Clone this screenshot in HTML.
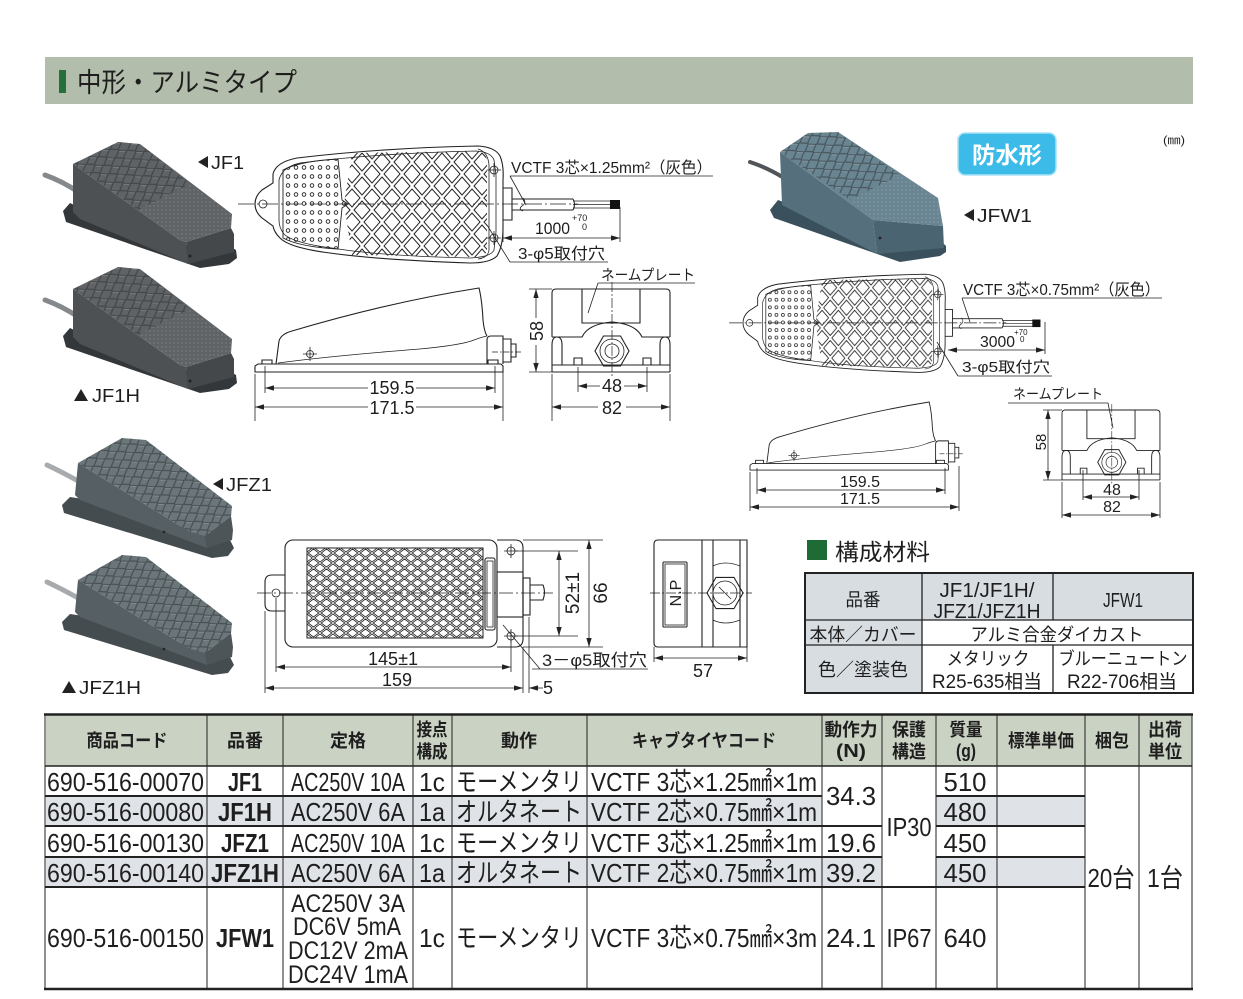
<!DOCTYPE html>
<html><head><meta charset="utf-8"><title>中形・アルミタイプ</title>
<style>
html,body{margin:0;padding:0;background:#fff;width:1243px;height:999px;overflow:hidden}
svg{display:block}
text{font-family:"Liberation Sans","Noto Sans CJK JP",sans-serif;fill:#1e1e1e}
.b{font-weight:bold}
.ln{fill:none;stroke:#222;stroke-width:1.1}
.th{fill:none;stroke:#222;stroke-width:0.8}
.dm{fill:none;stroke:#222;stroke-width:0.8}
</style></head><body>
<svg width="1243" height="999" viewBox="0 0 1243 999" xmlns="http://www.w3.org/2000/svg">
<defs>
<marker id="ar" viewBox="0 0 10 6" refX="10" refY="3" markerWidth="9" markerHeight="5.4" markerUnits="userSpaceOnUse" orient="auto"><path d="M0,0 L10,3 L0,6Z" fill="#222"/></marker>
<pattern id="latA" x="352" y="150" width="20" height="24" patternUnits="userSpaceOnUse"><path d="M10,3 L18,12 L10,21 L2,12Z M0,-9 L8,0 L0,9 L-8,0Z M20,-9 L28,0 L20,9 L12,0Z M0,15 L8,24 L0,33 L-8,24Z M20,15 L28,24 L20,33 L12,24Z" fill="none" stroke="#222" stroke-width="1"/></pattern>
<pattern id="latB" x="307" y="548" width="13" height="10" patternUnits="userSpaceOnUse"><path d="M6.5,1 L11.8,5 L6.5,9 L1.2,5Z M0,-4 L5.3,0 L0,4 L-5.3,0Z M13,-4 L18.3,0 L13,4 L7.7,0Z M0,6 L5.3,10 L0,14 L-5.3,10Z M13,6 L18.3,10 L13,14 L7.7,10Z" fill="none" stroke="#222" stroke-width="0.8"/></pattern>
<pattern id="dotA" x="284" y="163" width="8" height="9" patternUnits="userSpaceOnUse"><circle cx="4" cy="4.5" r="1.8" fill="none" stroke="#222" stroke-width="0.9"/></pattern>
<pattern id="tex" width="14" height="10" patternUnits="userSpaceOnUse" patternTransform="rotate(-32)"><path d="M7,0.5 L13.5,5 L7,9.5 L0.5,5Z" fill="none" stroke="#2a2d30" stroke-opacity="0.55" stroke-width="1.2"/><path d="M7,1.5 L12.2,5" fill="none" stroke="#fff" stroke-opacity="0.22" stroke-width="1"/></pattern>
<pattern id="tex2" width="4" height="4" patternUnits="userSpaceOnUse"><circle cx="2" cy="2" r="0.8" fill="#fff" fill-opacity="0.18"/></pattern>

<g id="planA">
 <path class="ln" d="M273,183 L273,174 Q276,162 297,158 Q380,148 478,146 Q495,147 500,156 Q504,165 503,180 L503,228 Q503,246 497,256 Q490,263 470,263 Q380,260 330,253 Q290,248 280,238 Q274,232 273,226 L262,218 Q255,212 255,204 Q255,196 262,190 Z"/>
 <path class="th" d="M279,180 Q282,167 300,163 Q380,153 476,151 Q491,152 494,160 L496,175 L496,232 L494,250 Q491,257 470,258 Q380,256 332,248 Q293,243 284,234 Q279,228 279,220 Z"/>
 <path class="th" d="M478,149 Q488,152 489,165 L489,250 Q488,258 478,259"/>
 <path d="M283,170 Q300,161 338,159 L342,200 L348,204 L342,208 L338,249 Q300,247 283,238 Z" fill="url(#dotA)" stroke="#222" stroke-width="0.9"/>
 <path d="M352,153 L476,151 Q487,152 487,162 L487,250 Q486,257 474,257 L352,255 L344,204 Z" fill="url(#latA)" stroke="none"/>
 <circle class="th" cx="263" cy="204" r="4"/>
 <circle class="th" cx="494" cy="170" r="4"/><path class="th" d="M487,170 H501 M494,163 V177"/>
 <circle class="th" cx="494" cy="238" r="4"/><path class="th" d="M487,238 H501 M494,231 V245"/>
 <path d="M238,204 H578" fill="none" stroke="#222" stroke-width="0.8" stroke-dasharray="16 3 2 3"/>
 <path class="ln" d="M503,188 H512 V220 H503"/>
 <path class="ln" d="M512,199 H573 M512,210 H573 M573,199 Q576,204.5 573,210"/>
 <path class="th" d="M523,198 Q527,203 522,206 Q518,209 523,211"/>
 <path class="th" d="M573,201 H612 M573,204.5 H612 M573,208 H612"/>
 <rect x="610" y="200" width="10" height="9" fill="#111"/>
</g>
<g id="sideA">
 <path class="ln" d="M255,372 V366 L258,364 H501 L503,366 V372 Z"/>
 <path class="ln" d="M262,364 V360 H272 V364 M488,364 V360 H498 V364"/>
 <path class="ln" d="M276,364 L279,341 Q281,334 292,331 Q390,302 479,288 Q482,300 483,320 Q484,331 487,336"/>
 <path class="th" d="M278,363 Q330,356 420,349 Q462,345 474,340 Q482,337 487,336"/>
 <path class="ln" d="M487,364 V340 Q487,336 491,336 H503 V364"/>
 <path class="ln" d="M503,339 H511 V362 H503 M511,344 H516 V357 H511"/>
 <circle class="th" cx="310" cy="354" r="3.5"/><path class="th" d="M303,354 H317 M310,347 V361"/>
 <path d="M492,352 H522" fill="none" stroke="#222" stroke-width="0.7" stroke-dasharray="6 2 1.5 2"/>
</g>
<g id="frontA">
 <path class="ln" d="M552,337 V293 Q552,289 556,289 H666 Q670,289 670,293 V337"/>
 <path class="ln" d="M582,289 V323 H640 V289"/>
 <path class="ln" d="M552,337 H582 Q588,324 612,322 Q636,324 642,337 H670"/>
 <path class="ln" d="M552,372 V345 Q552,337 557,337 Q562,337 562,345 V365"/>
 <path class="ln" d="M670,372 V345 Q670,337 665,337 Q660,337 660,345 V365"/>
 <path class="ln" d="M552,365 H670 M552,372 H670"/>
 <polygon class="ln" points="629,351 620.5,366 603.5,366 595,351 603.5,336 620.5,336"/>
 <circle class="th" cx="612" cy="351" r="12"/>
 <circle class="th" cx="612" cy="351" r="7"/>
 <path class="ln" d="M574,365 V358 H582 V365 M643,365 V358 H651 V365"/>
 <path d="M612,282 V376" fill="none" stroke="#222" stroke-width="0.7" stroke-dasharray="10 2 2 2"/>
</g>
</defs>

<!-- Title bar -->
<rect x="45" y="57" width="1148" height="47" fill="#b3bdab"/>
<rect x="59" y="70" width="7" height="23" fill="#25703a"/>
<text x="77" y="92" font-size="27" textLength="220" lengthAdjust="spacingAndGlyphs">中形・アルミタイプ</text>

<!-- Photos JF1 / JF1H -->
<g id="pA">
 <path d="M45,175 Q62,181 80,193" stroke="#85898c" stroke-width="5" fill="none" stroke-linecap="round"/>
 <polygon points="63,211 70,203 78,207 200,250 228,245 236,250 237,258 229,264 200,268 66,222" fill="#34373a"/>
 <polygon points="73,164 180,240 186,242 188,264 80,219 73,212" fill="#4d5154"/>
 <polygon points="186,242 231,228 234,234 234,252 188,264" fill="#44484b"/>
 <polygon points="73,164 118,142 140,144 232,214 231,228 186,242 180,240" fill="#5f6366"/>
 <polygon points="73,164 118,142 140,144 190,184 138,210" fill="url(#tex)"/>
 <polygon points="138,210 190,184 232,214 231,228 186,242 180,240" fill="url(#tex2)"/>
 <circle cx="190" cy="256" r="1.5" fill="#222"/>
</g>
<use href="#pA" transform="translate(0,125)"/>
<polygon points="198,162 208,156 208,168" fill="#222"/>
<text x="211" y="169" font-size="18" textLength="33" lengthAdjust="spacingAndGlyphs">JF1</text>
<polygon points="74,401 81,389 88,401" fill="#222"/>
<text x="92" y="402" font-size="18" textLength="48" lengthAdjust="spacingAndGlyphs">JF1H</text>

<!-- Photos JFZ1 / JFZ1H -->
<g id="pZ">
 <path d="M47,465 Q62,472 78,481" stroke="#a7abae" stroke-width="5" fill="none" stroke-linecap="round"/>
 <polygon points="62,505 70,497 90,500 230,540 234,548 228,556 212,558 64,513" fill="#454c50"/>
 <polygon points="78,463 190,532 205,536 207,548 80,500 75,495" fill="#566064"/>
 <polygon points="205,536 231,516 233,530 232,540 207,548" fill="#4d5559"/>
 <polygon points="78,463 122,438 146,440 232,506 231,516 205,536 190,532" fill="#6b767b"/>
 <polygon points="78,463 122,438 146,440 232,506 231,516 205,536 190,532" fill="url(#tex)"/>
 <circle cx="164" cy="532" r="1.3" fill="#222"/>
</g>
<use href="#pZ" transform="translate(0,117)"/>
<polygon points="213,484 223,478 223,490" fill="#222"/>
<text x="226" y="491" font-size="18" textLength="46" lengthAdjust="spacingAndGlyphs">JFZ1</text>
<polygon points="62,693 69,681 76,693" fill="#222"/>
<text x="79" y="694" font-size="18" textLength="62" lengthAdjust="spacingAndGlyphs">JFZ1H</text>

<!-- Photo JFW1 -->
<path d="M750,162 Q768,168 784,178" stroke="#4f5558" stroke-width="4" fill="none" stroke-linecap="round"/>
<polygon points="770,210 778,200 786,203 877,252 940,240 946,246 946,252 940,256 900,262 774,218" fill="#3a505c"/>
<polygon points="780,152 873,220 877,254 782,205" fill="#55707c"/>
<polygon points="873,220 943,226 944,248 877,254" fill="#4b6471"/>
<polygon points="780,152 808,133 838,132 938,198 943,226 873,220" fill="#6a8592"/>
<polygon points="780,152 808,133 838,132 900,175 850,200" fill="url(#tex)"/>
<polygon points="850,200 900,175 938,198 943,226 873,220" fill="url(#tex2)"/>
<circle cx="880" cy="238" r="1.4" fill="#222"/>
<polygon points="964,215 974,209 974,221" fill="#222"/>
<text x="977" y="222" font-size="18" textLength="55" lengthAdjust="spacingAndGlyphs">JFW1</text>

<!-- badge -->
<rect x="958" y="133" width="98" height="42" rx="7" fill="#3dbbe8" stroke="#a9e2f5" stroke-width="1.5"/>
<text x="1007" y="163" font-size="23" class="b" text-anchor="middle" style="fill:#fff" textLength="70" lengthAdjust="spacingAndGlyphs">防水形</text>
<text x="1163" y="144" font-size="12" textLength="22" lengthAdjust="spacingAndGlyphs">(㎜)</text>

<!-- JF1 drawings -->
<use href="#planA"/>
<text x="511" y="173" font-size="16" textLength="201" lengthAdjust="spacingAndGlyphs">VCTF 3芯×1.25mm²（灰色）</text>
<path class="dm" d="M510,176 H713 M510,176 L526,205"/>
<text x="535" y="234" font-size="17" textLength="35" lengthAdjust="spacingAndGlyphs">1000</text>
<text x="572" y="221" font-size="9">+70</text>
<text x="582" y="230" font-size="9">0</text>
<path class="dm" d="M560,238 H503" marker-end="url(#ar)"/>
<path class="dm" d="M560,238 H620" marker-end="url(#ar)"/>
<path class="dm" d="M620,207 V242 M503,228 V242"/>
<text x="518" y="259" font-size="16" textLength="87" lengthAdjust="spacingAndGlyphs">3-φ5取付穴</text>
<path class="dm" d="M510,262 H608 M510,262 L487,225"/>

<use href="#sideA"/>
<path class="dm" d="M255,374 V421 M503,372 V421 M265,366 V393 M495,366 V393"/>
<path class="dm" d="M368,388 H265" marker-end="url(#ar)"/>
<path class="dm" d="M416,388 H495" marker-end="url(#ar)"/>
<text x="392" y="394" font-size="18" text-anchor="middle">159.5</text>
<path class="dm" d="M368,407 H255" marker-end="url(#ar)"/>
<path class="dm" d="M416,407 H503" marker-end="url(#ar)"/>
<text x="392" y="414" font-size="18" text-anchor="middle">171.5</text>

<use href="#frontA"/>
<text x="601" y="280" font-size="15" textLength="94" lengthAdjust="spacingAndGlyphs">ネームプレート</text>
<path class="dm" d="M598,283 H695 M598,283 L588,313"/>
<path class="dm" d="M529,289 H552 M529,372 H552"/>
<path class="dm" d="M536,318 V289" marker-end="url(#ar)"/>
<path class="dm" d="M536,345 V372" marker-end="url(#ar)"/>
<text transform="translate(543,331) rotate(-90)" font-size="18" text-anchor="middle">58</text>
<path class="dm" d="M578,367 V392 M647,367 V392 M552,374 V421 M670,374 V421"/>
<path class="dm" d="M600,386 H578" marker-end="url(#ar)"/>
<path class="dm" d="M624,386 H647" marker-end="url(#ar)"/>
<text x="612" y="392" font-size="18" text-anchor="middle">48</text>
<path class="dm" d="M598,407 H552" marker-end="url(#ar)"/>
<path class="dm" d="M626,407 H670" marker-end="url(#ar)"/>
<text x="612" y="414" font-size="18" text-anchor="middle">82</text>

<!-- JFW1 drawings -->
<use href="#planA" transform="translate(743 275) scale(0.815 0.84) translate(-255 -147)"/>
<text x="963" y="295" font-size="16" textLength="197" lengthAdjust="spacingAndGlyphs">VCTF 3芯×0.75mm²（灰色）</text>
<path class="dm" d="M962,298 H1162 M962,298 L970,322"/>
<text x="980" y="347" font-size="16" textLength="35" lengthAdjust="spacingAndGlyphs">3000</text>
<text x="1014" y="335" font-size="8">+70</text>
<text x="1020" y="342" font-size="8">0</text>
<path class="dm" d="M996,350 H948" marker-end="url(#ar)"/>
<path class="dm" d="M996,350 H1045" marker-end="url(#ar)"/>
<path class="dm" d="M1045,322 V354"/>
<text x="962" y="372" font-size="15" textLength="88" lengthAdjust="spacingAndGlyphs">3-φ5取付穴</text>
<path class="dm" d="M958,376 H1052 M958,376 L937,342"/>

<use href="#sideA" transform="translate(750 402) scale(0.80 0.81) translate(-255 -288)"/>
<path class="dm" d="M750,472 V511 M959,466 V511 M757,468 V494 M945,468 V494"/>
<path class="dm" d="M851,490 H757" marker-end="url(#ar)"/>
<path class="dm" d="M851,490 H945" marker-end="url(#ar)"/>
<text x="860" y="487" font-size="16" text-anchor="middle">159.5</text>
<path class="dm" d="M855,507 H750" marker-end="url(#ar)"/>
<path class="dm" d="M855,507 H959" marker-end="url(#ar)"/>
<text x="860" y="504" font-size="16" text-anchor="middle">171.5</text>

<use href="#frontA" transform="translate(1062 410) scale(0.83 0.843) translate(-552 -289)"/>
<text x="1013" y="399" font-size="14" textLength="90" lengthAdjust="spacingAndGlyphs">ネームプレート</text>
<path class="dm" d="M1008,403 H1108 M1108,403 L1113,428"/>
<path class="dm" d="M1043,410 H1062 M1043,480 H1062"/>
<path class="dm" d="M1048,445 V410" marker-end="url(#ar)"/>
<path class="dm" d="M1048,445 V480" marker-end="url(#ar)"/>
<text transform="translate(1046,442) rotate(-90)" font-size="15" text-anchor="middle">58</text>
<path class="dm" d="M1083,470 V500 M1139,470 V500 M1062,482 V518 M1160,482 V518"/>
<path class="dm" d="M1111,497 H1083" marker-end="url(#ar)"/>
<path class="dm" d="M1111,497 H1139" marker-end="url(#ar)"/>
<text x="1112" y="495" font-size="16" text-anchor="middle">48</text>
<path class="dm" d="M1111,515 H1062" marker-end="url(#ar)"/>
<path class="dm" d="M1111,515 H1160" marker-end="url(#ar)"/>
<text x="1112" y="512" font-size="16" text-anchor="middle">82</text>

<!-- JFZ drawings -->
<rect class="ln" x="285" y="540" width="212" height="107" rx="8"/>
<path class="ln" d="M285,575 H272 Q265,575 265,582 V604 Q265,611 272,611 H285"/>
<circle class="th" cx="276" cy="593" r="4"/>
<rect x="307" y="548" width="176" height="90" fill="url(#latB)" stroke="#222" stroke-width="1"/>
<rect class="ln" x="485" y="558" width="10" height="72" rx="2"/>
<rect class="th" x="487" y="561" width="6" height="66"/>
<path class="ln" d="M497,540 H515 Q523,540 523,548 V639 Q523,647 515,647 H497"/>
<circle class="th" cx="511" cy="551" r="4"/><path class="th" d="M504,551 H518 M511,544 V558"/>
<circle class="th" cx="511" cy="636" r="4"/><path class="th" d="M504,636 H518 M511,629 V643"/>
<rect class="ln" x="497" y="572" width="26" height="45"/>
<rect class="ln" x="523" y="578" width="7" height="37"/>
<path class="ln" d="M530,585 H543 Q546,592 543,600 H530"/>
<path d="M257,593 H553" fill="none" stroke="#222" stroke-width="0.8" stroke-dasharray="14 3 2 3"/>
<path class="dm" d="M515,551 H578 M515,636 H578 M523,540 H603 M523,647 H603"/>
<path class="dm" d="M559,593 V551" marker-end="url(#ar)"/>
<path class="dm" d="M559,593 V636" marker-end="url(#ar)"/>
<text transform="translate(579,593) rotate(-90)" font-size="19" text-anchor="middle">52±1</text>
<path class="dm" d="M589,593 V540" marker-end="url(#ar)"/>
<path class="dm" d="M589,593 V647" marker-end="url(#ar)"/>
<text transform="translate(607,593) rotate(-90)" font-size="19" text-anchor="middle">66</text>
<path class="dm" d="M276,598 V672 M511,640 V672 M265,611 V693 M523,647 V693 M529,617 V693"/>
<path class="dm" d="M393,667 H276" marker-end="url(#ar)"/>
<path class="dm" d="M393,667 H511" marker-end="url(#ar)"/>
<text x="393" y="665" font-size="18" text-anchor="middle">145±1</text>
<path class="dm" d="M397,688 H265" marker-end="url(#ar)"/>
<path class="dm" d="M397,688 H523" marker-end="url(#ar)"/>
<text x="397" y="686" font-size="18" text-anchor="middle">159</text>
<path class="dm" d="M543,688 H529" marker-end="url(#ar)"/>
<text x="543" y="694" font-size="18">5</text>
<text x="542" y="666" font-size="17" textLength="105" lengthAdjust="spacingAndGlyphs">3－φ5取付穴</text>
<path class="dm" d="M532,669 H648 M540,669 L503,625"/>

<!-- JFZ side -->
<path class="ln" d="M658,540 H747 V647 H658 Q654,647 654,643 V544 Q654,540 658,540 Z"/>
<path class="ln" d="M702,540 V647 M713,540 V647 M740,540 V647"/>
<path class="th" d="M713,566 Q725,560 740,566 M713,620 Q725,626 740,620"/>
<rect class="ln" x="663" y="562" width="24" height="65" rx="1"/>
<rect class="th" x="665" y="564" width="20" height="61"/>
<text transform="translate(681,593) rotate(-90)" font-size="16" text-anchor="middle">N.P</text>
<polygon class="ln" points="743,593 734,608.6 716,608.6 707,593 716,577.4 734,577.4"/>
<circle class="th" cx="725" cy="593" r="12"/>
<path class="th" d="M719,587 L731,599"/>
<path d="M650,593 H752" fill="none" stroke="#222" stroke-width="0.7" stroke-dasharray="10 2 2 2"/>
<path class="dm" d="M654,647 V662 M747,647 V662"/>
<path class="dm" d="M700,658 H654" marker-end="url(#ar)"/>
<path class="dm" d="M700,658 H747" marker-end="url(#ar)"/>
<text x="703" y="677" font-size="18" text-anchor="middle">57</text>

<!-- 構成材料 -->
<rect x="807" y="540" width="20" height="20" fill="#1f6b35"/>
<text x="835" y="560" font-size="23" textLength="95" lengthAdjust="spacingAndGlyphs">構成材料</text>
<rect x="806" y="574" width="386" height="46" fill="#d8dde2"/>
<rect x="806" y="620" width="116" height="73" fill="#d8dde2"/>
<rect x="805" y="573" width="388" height="120" fill="none" stroke="#222" stroke-width="2"/>
<path d="M805,620 H1193 M805,645 H1193 M922,573 V693 M1053,573 V620 M1053,645 V693" fill="none" stroke="#222" stroke-width="1.3"/>
<text x="863" y="606" font-size="18" text-anchor="middle" textLength="35" lengthAdjust="spacingAndGlyphs">品番</text>
<text x="987" y="597" font-size="20" text-anchor="middle" textLength="95" lengthAdjust="spacingAndGlyphs">JF1/JF1H/</text>
<text x="987" y="618" font-size="20" text-anchor="middle" textLength="107" lengthAdjust="spacingAndGlyphs">JFZ1/JFZ1H</text>
<text x="1123" y="607" font-size="20" text-anchor="middle" textLength="40" lengthAdjust="spacingAndGlyphs">JFW1</text>
<text x="863" y="641" font-size="18" text-anchor="middle" textLength="107" lengthAdjust="spacingAndGlyphs">本体／カバー</text>
<text x="1057" y="641" font-size="18" text-anchor="middle" textLength="173" lengthAdjust="spacingAndGlyphs">アルミ合金ダイカスト</text>
<text x="863" y="676" font-size="18" text-anchor="middle" textLength="90" lengthAdjust="spacingAndGlyphs">色／塗装色</text>
<text x="988" y="665" font-size="18" text-anchor="middle" textLength="83" lengthAdjust="spacingAndGlyphs">メタリック</text>
<text x="987" y="688" font-size="19" text-anchor="middle" textLength="110" lengthAdjust="spacingAndGlyphs">R25-635相当</text>
<text x="1123" y="665" font-size="18" text-anchor="middle" textLength="129" lengthAdjust="spacingAndGlyphs">ブルーニュートン</text>
<text x="1122" y="688" font-size="19" text-anchor="middle" textLength="110" lengthAdjust="spacingAndGlyphs">R22-706相当</text>

<!-- Main table -->
<rect x="46" y="715" width="1146" height="51" fill="#cad2c4"/>
<rect x="46" y="796" width="776" height="30" fill="#dfe3e8"/>
<rect x="936" y="796" width="149" height="30" fill="#dfe3e8"/>
<rect x="46" y="857" width="836" height="30" fill="#dfe3e8"/>
<rect x="936" y="857" width="149" height="30" fill="#dfe3e8"/>
<path d="M45,714 V989 M207,714 V989 M283,714 V989 M413,714 V989 M452,714 V989 M587,714 V989 M822,714 V989 M882,714 V989 M936,714 V989 M997,714 V989 M1085,714 V989 M1139,714 V989 M1192,714 V989" fill="none" stroke="#222" stroke-width="1"/>
<path d="M45,766 H1192" fill="none" stroke="#222" stroke-width="1.5"/>
<path d="M45,796 H822 M936,796 H1085 M45,826 H882 M936,826 H1085 M45,857 H882 M936,857 H1085 M45,887 H1085" fill="none" stroke="#222" stroke-width="2"/>
<path d="M44,714.5 H1193 M44,989 H1193" fill="none" stroke="#222" stroke-width="2.5"/>

<g class="b" font-size="18">
<text x="127" y="747" text-anchor="middle" textLength="81" lengthAdjust="spacingAndGlyphs">商品コード</text>
<text x="245" y="747" text-anchor="middle" textLength="36" lengthAdjust="spacingAndGlyphs">品番</text>
<text x="348" y="747" text-anchor="middle" textLength="36" lengthAdjust="spacingAndGlyphs">定格</text>
<text x="432" y="736" text-anchor="middle" textLength="31" lengthAdjust="spacingAndGlyphs">接点</text>
<text x="432" y="758" text-anchor="middle" textLength="31" lengthAdjust="spacingAndGlyphs">構成</text>
<text x="519" y="747" text-anchor="middle" textLength="36" lengthAdjust="spacingAndGlyphs">動作</text>
<text x="704" y="747" text-anchor="middle" textLength="144" lengthAdjust="spacingAndGlyphs">キャブタイヤコード</text>
<text x="851" y="736" text-anchor="middle" textLength="53" lengthAdjust="spacingAndGlyphs">動作力</text>
<text x="851" y="757" text-anchor="middle" textLength="30" lengthAdjust="spacingAndGlyphs">(N)</text>
<text x="909" y="736" text-anchor="middle" textLength="34" lengthAdjust="spacingAndGlyphs">保護</text>
<text x="909" y="758" text-anchor="middle" textLength="34" lengthAdjust="spacingAndGlyphs">構造</text>
<text x="966" y="736" text-anchor="middle" textLength="33" lengthAdjust="spacingAndGlyphs">質量</text>
<text x="966" y="757" text-anchor="middle" textLength="20" lengthAdjust="spacingAndGlyphs">(g)</text>
<text x="1041" y="747" text-anchor="middle" textLength="66" lengthAdjust="spacingAndGlyphs">標準単価</text>
<text x="1112" y="747" text-anchor="middle" textLength="34" lengthAdjust="spacingAndGlyphs">梱包</text>
<text x="1165" y="736" text-anchor="middle" textLength="34" lengthAdjust="spacingAndGlyphs">出荷</text>
<text x="1165" y="758" text-anchor="middle" textLength="34" lengthAdjust="spacingAndGlyphs">単位</text>
</g>

<g font-size="26">
<text x="47" y="791" textLength="157" lengthAdjust="spacingAndGlyphs">690-516-00070</text>
<text x="47" y="821" textLength="157" lengthAdjust="spacingAndGlyphs">690-516-00080</text>
<text x="47" y="852" textLength="157" lengthAdjust="spacingAndGlyphs">690-516-00130</text>
<text x="47" y="882" textLength="157" lengthAdjust="spacingAndGlyphs">690-516-00140</text>
<text x="47" y="947" textLength="157" lengthAdjust="spacingAndGlyphs">690-516-00150</text>

<text class="b" x="245" y="791" text-anchor="middle" textLength="34" lengthAdjust="spacingAndGlyphs">JF1</text>
<text class="b" x="245" y="821" text-anchor="middle" textLength="54" lengthAdjust="spacingAndGlyphs">JF1H</text>
<text class="b" x="245" y="852" text-anchor="middle" textLength="48" lengthAdjust="spacingAndGlyphs">JFZ1</text>
<text class="b" x="245" y="882" text-anchor="middle" textLength="68" lengthAdjust="spacingAndGlyphs">JFZ1H</text>
<text class="b" x="245" y="947" text-anchor="middle" textLength="58" lengthAdjust="spacingAndGlyphs">JFW1</text>

<text x="348" y="791" text-anchor="middle" textLength="114" lengthAdjust="spacingAndGlyphs">AC250V 10A</text>
<text x="348" y="821" text-anchor="middle" textLength="114" lengthAdjust="spacingAndGlyphs">AC250V 6A</text>
<text x="348" y="852" text-anchor="middle" textLength="114" lengthAdjust="spacingAndGlyphs">AC250V 10A</text>
<text x="348" y="882" text-anchor="middle" textLength="114" lengthAdjust="spacingAndGlyphs">AC250V 6A</text>
<text x="348" y="912" font-size="25" text-anchor="middle" textLength="114" lengthAdjust="spacingAndGlyphs">AC250V 3A</text>
<text x="347" y="935" font-size="25" text-anchor="middle" textLength="108" lengthAdjust="spacingAndGlyphs">DC6V 5mA</text>
<text x="348" y="959" font-size="25" text-anchor="middle" textLength="120" lengthAdjust="spacingAndGlyphs">DC12V 2mA</text>
<text x="348" y="983" font-size="25" text-anchor="middle" textLength="120" lengthAdjust="spacingAndGlyphs">DC24V 1mA</text>

<text x="432" y="791" text-anchor="middle" textLength="26" lengthAdjust="spacingAndGlyphs">1c</text>
<text x="432" y="821" text-anchor="middle" textLength="26" lengthAdjust="spacingAndGlyphs">1a</text>
<text x="432" y="852" text-anchor="middle" textLength="26" lengthAdjust="spacingAndGlyphs">1c</text>
<text x="432" y="882" text-anchor="middle" textLength="26" lengthAdjust="spacingAndGlyphs">1a</text>
<text x="432" y="947" text-anchor="middle" textLength="26" lengthAdjust="spacingAndGlyphs">1c</text>

<text x="519" y="791" text-anchor="middle" textLength="126" lengthAdjust="spacingAndGlyphs">モーメンタリ</text>
<text x="519" y="821" text-anchor="middle" textLength="126" lengthAdjust="spacingAndGlyphs">オルタネート</text>
<text x="519" y="852" text-anchor="middle" textLength="126" lengthAdjust="spacingAndGlyphs">モーメンタリ</text>
<text x="519" y="882" text-anchor="middle" textLength="126" lengthAdjust="spacingAndGlyphs">オルタネート</text>
<text x="519" y="947" text-anchor="middle" textLength="126" lengthAdjust="spacingAndGlyphs">モーメンタリ</text>

<text x="704" y="791" text-anchor="middle" textLength="226" lengthAdjust="spacingAndGlyphs">VCTF 3芯×1.25㎟×1m</text>
<text x="704" y="821" text-anchor="middle" textLength="226" lengthAdjust="spacingAndGlyphs">VCTF 2芯×0.75㎟×1m</text>
<text x="704" y="852" text-anchor="middle" textLength="226" lengthAdjust="spacingAndGlyphs">VCTF 3芯×1.25㎟×1m</text>
<text x="704" y="882" text-anchor="middle" textLength="226" lengthAdjust="spacingAndGlyphs">VCTF 2芯×0.75㎟×1m</text>
<text x="704" y="947" text-anchor="middle" textLength="226" lengthAdjust="spacingAndGlyphs">VCTF 3芯×0.75㎟×3m</text>

<text x="851" y="805" text-anchor="middle" textLength="50" lengthAdjust="spacingAndGlyphs">34.3</text>
<text x="851" y="852" text-anchor="middle" textLength="50" lengthAdjust="spacingAndGlyphs">19.6</text>
<text x="851" y="882" text-anchor="middle" textLength="50" lengthAdjust="spacingAndGlyphs">39.2</text>
<text x="851" y="947" text-anchor="middle" textLength="50" lengthAdjust="spacingAndGlyphs">24.1</text>

<text x="909" y="836" text-anchor="middle" textLength="45" lengthAdjust="spacingAndGlyphs">IP30</text>
<text x="909" y="947" text-anchor="middle" textLength="45" lengthAdjust="spacingAndGlyphs">IP67</text>

<text x="965" y="791" text-anchor="middle" textLength="43" lengthAdjust="spacingAndGlyphs">510</text>
<text x="965" y="821" text-anchor="middle" textLength="43" lengthAdjust="spacingAndGlyphs">480</text>
<text x="965" y="852" text-anchor="middle" textLength="43" lengthAdjust="spacingAndGlyphs">450</text>
<text x="965" y="882" text-anchor="middle" textLength="43" lengthAdjust="spacingAndGlyphs">450</text>
<text x="965" y="947" text-anchor="middle" textLength="43" lengthAdjust="spacingAndGlyphs">640</text>

<text x="1111" y="887" text-anchor="middle" textLength="47" lengthAdjust="spacingAndGlyphs">20台</text>
<text x="1165" y="887" text-anchor="middle" textLength="36" lengthAdjust="spacingAndGlyphs">1台</text>
</g>
</svg>
</body></html>
